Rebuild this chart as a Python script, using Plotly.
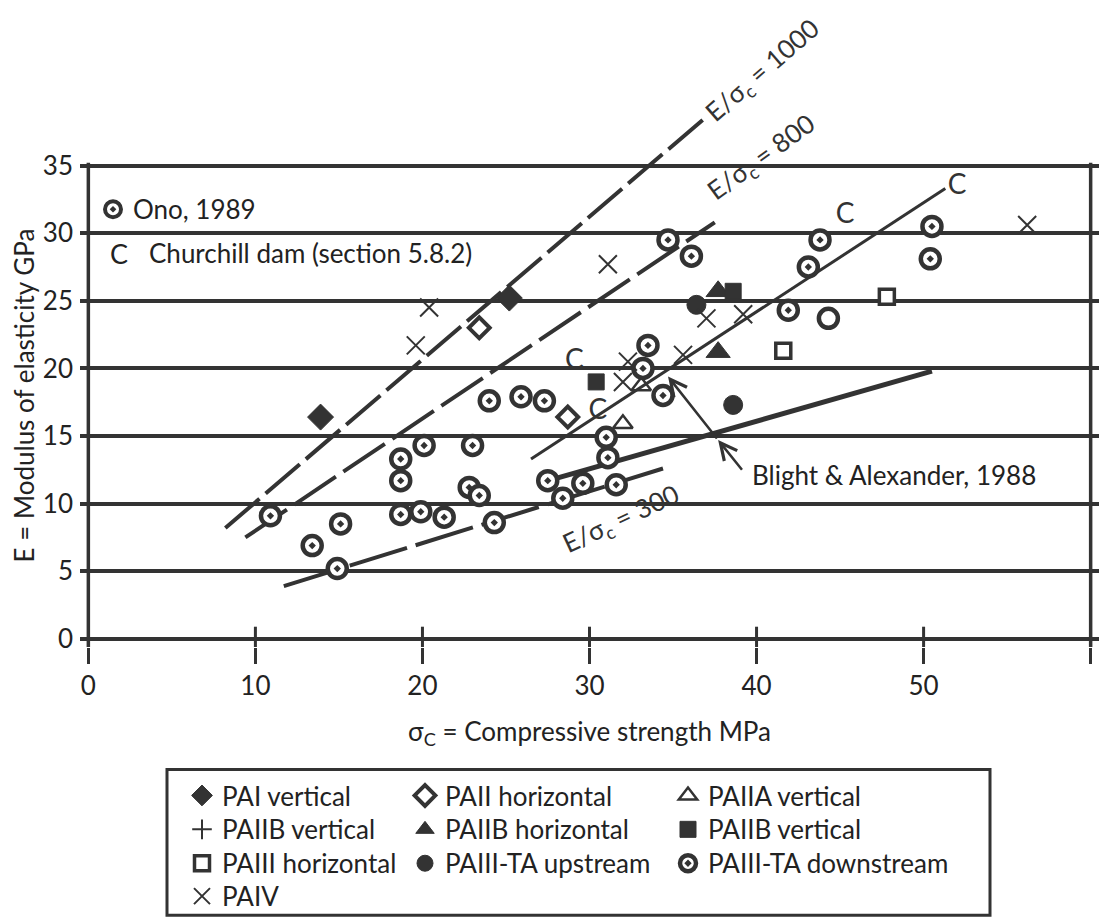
import plotly.graph_objects as go

# ---------------- data ----------------
# PAIII-TA downstream / Ono 1989 (ring with dot)
down_x = [10.9, 13.4, 15.1, 14.9, 18.7, 18.7, 18.7, 19.9, 20.1, 21.3, 23.0, 22.8, 23.4, 24.3,
          24.0, 25.9, 27.3, 27.5, 28.4, 29.6, 31.0, 31.1, 31.6, 33.5, 33.2, 34.4, 34.7, 36.1,
          41.9, 43.1, 43.8, 50.5, 50.4]
down_y = [9.1, 6.9, 8.5, 5.2, 13.3, 11.7, 9.2, 9.4, 14.3, 9.0, 14.3, 11.2, 10.6, 8.6,
          17.6, 17.9, 17.6, 11.7, 10.4, 11.5, 14.9, 13.4, 11.4, 21.7, 20.0, 18.0, 29.5, 28.3,
          24.3, 27.5, 29.5, 30.5, 28.1]
ring_x = [44.3]
ring_y = [23.7]
up_x = [36.4, 38.6]                 # PAIII-TA upstream
up_y = [24.7, 17.3]
pai_v_x = [13.9, 25.2]              # PAI vertical
pai_v_y = [16.4, 25.2]
paii_h_x = [23.4, 28.7]             # PAII horizontal
paii_h_y = [23.0, 16.4]
paiia_v_x = [32.0, 33.1]            # PAIIA vertical
paiia_v_y = [15.9, 18.7]
paiib_vp_x = [None]                 # PAIIB vertical (+) - no visible points
paiib_vp_y = [None]
paiib_h_x = [37.7, 37.7]            # PAIIB horizontal
paiib_h_y = [21.2, 25.7]
paiib_vs_x = [30.4, 38.6]           # PAIIB vertical (square)
paiib_vs_y = [19.0, 25.7]
paiii_h_x = [47.8, 41.6]            # PAIII horizontal
paiii_h_y = [25.3, 21.3]
paiv_x = [20.4, 19.6, 31.1, 37.0, 39.2, 35.6, 32.3, 32.0, 56.2]   # PAIV
paiv_y = [24.5, 21.7, 27.7, 23.7, 24.0, 21.0, 20.5, 19.0, 30.6]
churchill_x = [29.1, 30.5, 45.3, 52.0]   # Churchill dam "C"
churchill_y = [20.5, 16.8, 31.3, 33.4]

# reference lines
r1000_x = [8.2, 36.8]
r1000_y = [8.2, 38.4]
r800_x = [9.4, 37.5]
r800_y = [7.5, 30.8]
r300_x = [11.7, 34.4]
r300_y = [3.9, 12.6]
church_line_x = [26.5, 51.3]
church_line_y = [13.3, 33.3]
blight_x = [28.1, 50.5]
blight_y = [11.9, 19.8]
# Blight & Alexander pointer arrows (tail -> head)
arrow1_x = [39.2, 37.7]
arrow1_y = [12.4, 14.7]
arrow2_x = [37.7, 34.7]
arrow2_y = [14.7, 19.4]

x_ticks = [0, 10, 20, 30, 40, 50, 60]
y_ticks = [0, 5, 10, 15, 20, 25, 30, 35]

INK = "#333333"
FONT = "Lato"
FS = 26

fig = go.Figure()

def line(x, y, width, dash="solid"):
    fig.add_trace(go.Scatter(x=x, y=y, mode="lines", showlegend=False, hoverinfo="skip",
                             line=dict(color=INK, width=width, dash=dash)))

line(r1000_x, r1000_y, 4, "45px,8px")
line(r800_x, r800_y, 4, "50px,9px")
line(r300_x, r300_y, 4, "60px,9px")
line(church_line_x, church_line_y, 3)
line(blight_x, blight_y, 5)

def pts(x, y, name, symbol, size, color, lw, lcolor, legend, showlegend=True):
    fig.add_trace(go.Scatter(x=x, y=y, mode="markers", name=name, legend=legend,
                             showlegend=showlegend,
                             marker=dict(symbol=symbol, size=size, color=color,
                                         line=dict(width=lw, color=lcolor))))

pts(pai_v_x, pai_v_y, "PAI vertical", "diamond", 20, INK, 1, INK, "legend")
pts(paii_h_x, paii_h_y, "PAII horizontal", "diamond-open", 16, INK, 4, INK, "legend2")
pts(paiia_v_x, paiia_v_y, "PAIIA vertical", "triangle-up-open", 17, INK, 2.5, INK, "legend3")
pts(paiib_vp_x, paiib_vp_y, "PAIIB vertical", "cross-thin-open", 14, INK, 2, INK, "legend4")
pts(paiib_h_x, paiib_h_y, "PAIIB horizontal", "triangle-up", 21, INK, 1, INK, "legend5")
pts(paiib_vs_x, paiib_vs_y, "PAIIB vertical", "square", 16, INK, 1, INK, "legend6")
pts(paiii_h_x, paiii_h_y, "PAIII horizontal", "square", 15, "white", 3.5, INK, "legend7")
pts(up_x, up_y, "PAIII-TA upstream", "circle", 19, INK, 1, INK, "legend8")
pts(down_x, down_y, "PAIII-TA downstream", "circle-dot", 19, "white", 4.5, INK, "legend9")
pts(ring_x, ring_y, "ring", "circle", 19, "white", 4.5, INK, "legend9", showlegend=False)
pts(paiv_x, paiv_y, "PAIV", "x-thin-open", 18, INK, 2, INK, "legend10")
# Ono 1989 key (same symbol as downstream points)
pts([None], [None], "Ono, 1989", "circle-dot", 16, "white", 4, INK, "legend11")

fig.add_trace(go.Scatter(x=churchill_x, y=churchill_y, mode="text", text=["C"] * len(churchill_x),
                         textfont=dict(family=FONT, size=28, color=INK), showlegend=False,
                         hoverinfo="skip"))

# ---------------- layout ----------------
W, H = 1105, 920
ML, MR, MT, MB = 80, 6, 0, 271
PW, PH = W - ML - MR, H - MT - MB

def px2paper(px, py):
    return (px - ML) / PW, (H - MB - py) / PH

legend_cells = {
    "legend": (207, 798), "legend2": (430, 798), "legend3": (693, 798),
    "legend4": (207, 832), "legend5": (430, 832), "legend6": (693, 832),
    "legend7": (207, 866), "legend8": (430, 866), "legend9": (693, 866),
    "legend10": (207, 899), "legend11": (118, 210),
}
legend_layout = {}
for key, (sx, sy) in legend_cells.items():
    lx, ly = px2paper(sx - 25, sy)
    legend_layout[key] = dict(x=lx, y=ly, xanchor="left", yanchor="middle",
                              bgcolor="rgba(0,0,0,0)", borderwidth=0,
                              font=dict(family=FONT, size=26, color="#222"))

shapes = []
for v in [0, 60]:
    shapes.append(dict(type="line", xref="x", yref="y", x0=v, x1=v, y0=-0.6, y1=35.2,
                       line=dict(color=INK, width=3.5), layer="above"))
for v in x_ticks[1:-1]:
    shapes.append(dict(type="line", xref="x", yref="y", x0=v, x1=v, y0=-0.6, y1=0.9,
                       line=dict(color=INK, width=3), layer="above"))
bx0, by0 = px2paper(167, 772)
bx1, by1 = px2paper(990, 918)
shapes.append(dict(type="rect", xref="paper", yref="paper", x0=bx0, x1=bx1, y0=by1, y1=by0,
                   line=dict(color=INK, width=3), fillcolor="rgba(0,0,0,0)"))

anns = [
    dict(x=40.4, y=42.0, xref="x", yref="y", text="E/σ<sub>c</sub> = 1000", textangle=-41,
         showarrow=False, font=dict(family=FONT, size=FS, color=INK)),
    dict(x=40.3, y=35.6, xref="x", yref="y", text="E/σ<sub>c</sub> = 800", textangle=-36,
         showarrow=False, font=dict(family=FONT, size=FS, color=INK)),
    dict(x=31.9, y=8.8, xref="x", yref="y", text="E/σ<sub>c</sub> = 300", textangle=-25,
         showarrow=False, font=dict(family=FONT, size=FS, color=INK)),
    dict(x=39.6, y=12.1, xref="x", yref="y", text="Blight &amp; Alexander, 1988", xanchor="left",
         showarrow=False, font=dict(family=FONT, size=FS, color="#222")),
    dict(x=1.85, y=28.5, xref="x", yref="y", text="C", showarrow=False,
         font=dict(family=FONT, size=27, color="#222")),
    dict(x=3.5, y=28.5, xref="x", yref="y", text="Churchill dam (section 5.8.2)", xanchor="left",
         showarrow=False, font=dict(family=FONT, size=FS, color="#222")),
    dict(x=(24 - ML) / PW, y=18.0, xref="paper", yref="y", text="E = Modulus of elasticity GPa",
         textangle=-90, xanchor="center", yanchor="middle", showarrow=False,
         font=dict(family=FONT, size=FS, color="#222")),
]
for ax_, ay_ in [(arrow1_x, arrow1_y), (arrow2_x, arrow2_y)]:
    anns.append(dict(x=ax_[1], y=ay_[1], ax=ax_[0], ay=ay_[0], xref="x", yref="y",
                     axref="x", ayref="y", text="", showarrow=True, arrowhead=5,
                     arrowsize=1.3, arrowwidth=2.5, arrowcolor=INK))

fig.update_layout(
    width=W, height=H, margin=dict(l=ML, r=MR, t=MT, b=MB),
    paper_bgcolor="white", plot_bgcolor="white",
    font=dict(family=FONT, size=FS, color="#222"),
    xaxis=dict(range=[-0.5, 60.5], tickvals=x_ticks, ticks="outside", ticklen=16, tickwidth=3,
               tickcolor=INK, showgrid=False, zeroline=False, showline=False,
               tickfont=dict(family=FONT, size=26, color="#222"),
               title=dict(text="σ<sub>C</sub> = Compressive strength MPa", standoff=22,
                          font=dict(family=FONT, size=FS, color="#222"))),
    yaxis=dict(range=[-0.6, 47.24], tickvals=y_ticks, ticks="", showgrid=True,
               gridcolor=INK, gridwidth=3.5, zeroline=False, showline=False,
               ticklabelstandoff=6,
               tickfont=dict(family=FONT, size=26, color="#222")),
    shapes=shapes, annotations=anns,
    **legend_layout,
)

fig.write_html("out.html")
